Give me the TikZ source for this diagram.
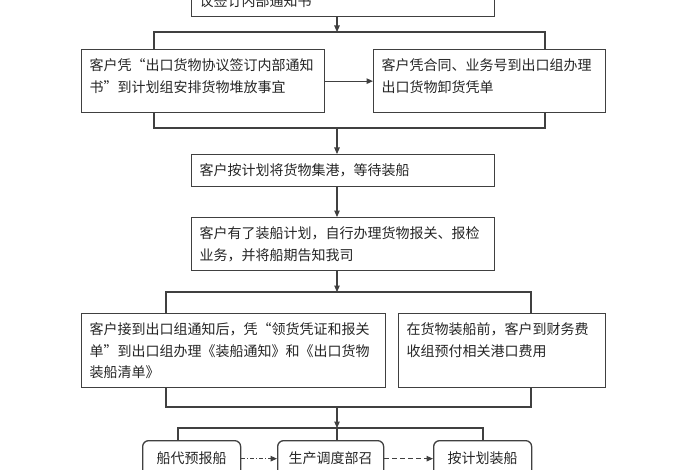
\documentclass[tikz,border=0pt]{standalone}
\usepackage{fontspec}
\newfontfamily\cjk{Noto Sans CJK SC}
\usetikzlibrary{arrows.meta,positioning}

% text block of fixed size inside a box: [inner pos]{width}{height}{text}
\newcommand{\flowtext}[4][t]{\parbox[c][#3][#1]{#2}{#4}}

\begin{document}
\begin{tikzpicture}[
  x=1pt, y=-1pt,
  box/.style={draw=black!75, line width=1.3pt, anchor=north west, inner xsep=8pt,
              inner ysep=9pt, text=black!85, font=\cjk\fontsize{14pt}{21.5pt}\selectfont},
  rbox/.style={box, rounded corners=6pt, inner sep=0pt, align=center},
  link/.style={draw=black!75, line width=1.1pt},
  arr/.style={link, -{Triangle[length=6.5pt,width=5.5pt]}}
]
\fill[white] (0,0) rectangle (700,470);
\useasboundingbox (0,0) rectangle (700,470);

% boxes
\node[box, anchor=south west] (top) at (191,17) {\flowtext[b]{287pt}{32pt}{议签订内部通知书}};
\node[box] (notice) at (81,49) {\flowtext{227pt}{45pt}{客户凭“出口货物协议签订内部通知\\书”到计划组安排货物堆放事宜}};
\node[box] (unload) at (373,49) {\flowtext{216pt}{45pt}{客户凭合同、业务号到出口组办理\\出口货物卸货凭单}};
\node[box] (port) at (191,154) {\flowtext{287pt}{14pt}{客户按计划将货物集港，等待装船}};
\node[box] (customs) at (191,217) {\flowtext{287pt}{35pt}{客户有了装船计划，自行办理货物报关、报检\\业务，并将船期告知我司}};
\node[box] (shipping) at (81,313) {\flowtext{288pt}{56pt}{客户接到出口组通知后，凭“领货凭证和报关\\单”到出口组办理《装船通知》和《出口货物\\装船清单》}};
\node[box] (fees) at (398,313) {\flowtext{191pt}{56pt}{在货物装船前，客户到财务费\\收组预付相关港口费用}};
\node[rbox, minimum width=98pt, minimum height=36pt] (agent) at (142,440) {船代预报船};
\node[rbox, minimum width=106pt, minimum height=36pt] (dispatch) at (277,440) {生产调度部召};
\node[rbox, minimum width=98pt, minimum height=36pt] (load) at (433,440) {按计划装船};

% junction points
\coordinate (t1l) at (154,32);  \coordinate (t1r) at (545,32);  \coordinate (j1) at (337,32);
\coordinate (b1l) at (154,128); \coordinate (b1r) at (545,128); \coordinate (j2) at (337,128);
\coordinate (t2l) at (166,292); \coordinate (t2r) at (531,292); \coordinate (j3) at (337,292);
\coordinate (b2l) at (166,407); \coordinate (b2r) at (531,407); \coordinate (j4) at (337,407);
\coordinate (t3l) at (178,428); \coordinate (t3r) at (483,428); \coordinate (j5) at (337,428);

% connectors
\draw[arr] (top.south -| j1) -- (j1);
\draw[link] (notice.north -| t1l) -- (t1l) -- (t1r) -- (unload.north -| t1r);
\draw[arr] (notice) -- (unload);
\draw[link] (notice.south -| b1l) -- (b1l) -- (b1r) -- (unload.south -| b1r);
\draw[arr] (j2) -- (port.north -| j2);
\draw[arr] (port.south -| j2) -- (customs.north -| j2);
\draw[arr] (customs.south -| j3) -- (j3);
\draw[link] (shipping.north -| t2l) -- (t2l) -- (t2r) -- (fees.north -| t2r);
\draw[link] (shipping.south -| b2l) -- (b2l) -- (b2r) -- (fees.south -| b2r);
\draw[arr] (j4) -- (j5);
\draw[link] (agent.north -| t3l) -- (t3l) -- (t3r) -- (load.north -| t3r);
\draw[link] (j5) -- (dispatch.north -| j5);
\draw[arr, dash pattern=on 4pt off 2pt on 1pt off 2pt] (agent) -- (dispatch);
\draw[arr, dash pattern=on 5pt off 3pt] (dispatch) -- (load);
\end{tikzpicture}
\end{document}
